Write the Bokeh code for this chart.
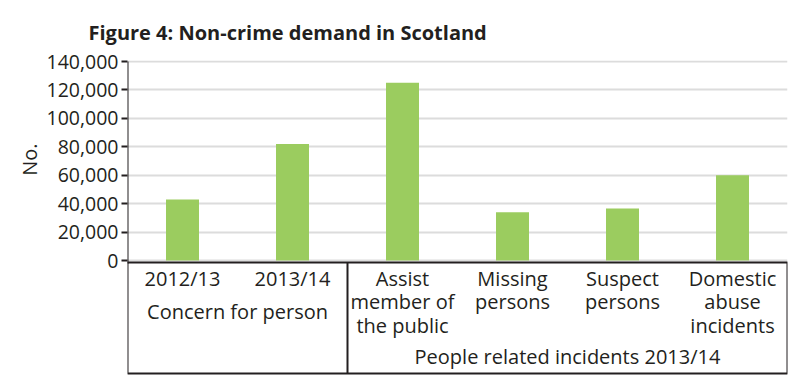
import math
from bokeh.plotting import figure
from bokeh.models import Range1d, FixedTicker, NumeralTickFormatter, Title
from bokeh.core.properties import value
from bokeh.embed import file_html
from bokeh.resources import INLINE

# ---- data ----
categories = ["2012/13", "2013/14", "Assist member of the public",
              "Missing persons", "Suspect persons", "Domestic abuse incidents"]
cat_lines = [["2012/13"], ["2013/14"], ["Assist", "member of", "the public"],
             ["Missing", "persons"], ["Suspect", "persons"],
             ["Domestic", "abuse", "incidents"]]
values = [43000, 82000, 125000, 34000, 36500, 60000]
group_names = ["Concern for person", "People related incidents 2013/14"]
group_start = [0, 2]
group_end = [2, 6]
y_ticks = [0, 20000, 40000, 60000, 80000, 100000, 120000, 140000]
title_text = "Figure 4: Non-crime demand in Scotland"
y_label = "No."

FONT = "Open Sans"
INK = "#231f20"
GREEN = "#9bcc5f"

# layout (pixel) helpers
W, H = 792, 383
top_px = 61
zero_px = 260
frame_bottom_px = 376
D = 140000 / 199.0  # data units per pixel

p = figure(width=W, height=H, output_backend="svg", toolbar_location=None,
           x_axis_type=None,
           x_range=Range1d(0, len(categories)),
           y_range=Range1d(-(frame_bottom_px - zero_px) * D, 140000 + 1 * D),
           min_border_left=127, min_border_right=W - 787,
           min_border_top=top_px - 1, min_border_bottom=H - frame_bottom_px)
p.outline_line_color = None
p.background_fill_color = "white"
p.border_fill_color = "white"

p.title = Title(text=title_text, align="left", offset=-39, standoff=30,
                text_font=FONT, text_font_size="20px", text_font_style="bold",
                text_color=INK)

ticker = FixedTicker(ticks=y_ticks)
ax = p.yaxis[0]
ax.ticker = ticker
ax.formatter = NumeralTickFormatter(format="0,0")
ax.axis_line_color = None
ax.major_tick_line_color = INK
ax.major_tick_line_width = 2
ax.major_tick_out = 6
ax.major_tick_in = 0
ax.minor_tick_line_color = None
ax.major_label_standoff = 3
ax.major_label_text_font = FONT
ax.major_label_text_font_size = "19.5px"
ax.major_label_text_color = INK

p.add_layout(Title(text=y_label, align="right", offset=83, standoff=2,
                   text_font=FONT, text_font_size="20px", text_font_style="normal",
                   text_color=INK), "left")

p.ygrid.ticker = ticker
p.ygrid.grid_line_color = "#dcdcdc"
p.ygrid.grid_line_width = 2

# bars
xs = [i + 0.5 for i in range(len(categories))]
p.vbar(x=xs, top=values, bottom=0, width=0.3, fill_color=GREEN, line_color=None)

# y axis line
p.segment(x0=[0], y0=[-3 * D], x1=[0], y1=[140000], line_color=INK, line_width=2)

# category table
box_top = -2 * D
box_bottom = -113 * D
p.quad(left=[0], right=[len(categories)], top=[box_top], bottom=[box_bottom],
       fill_color=None, line_color=INK, line_width=2)
for s in group_start[1:]:
    p.segment(x0=[s], y0=[box_top], x1=[s], y1=[box_bottom], line_color=INK, line_width=2)

row_px = [18, 41, 65]
tx, ty, tt = [], [], []
for i, lines in enumerate(cat_lines):
    for j, line in enumerate(lines):
        tx.append(xs[i]); ty.append(-row_px[j] * D); tt.append(line)
p.text(x=tx, y=ty, text=tt, text_align="center", text_baseline="middle",
       text_font=value(FONT), text_font_size="20px", text_color=INK)

gx = [(a + b) / 2 for a, b in zip(group_start, group_end)]
gy = [-51 * D, -96 * D]
p.text(x=gx, y=gy, text=group_names, text_align="center", text_baseline="middle",
       text_font=value(FONT), text_font_size="20px", text_color=INK)

open("out.html", "w").write(file_html(p, INLINE))
